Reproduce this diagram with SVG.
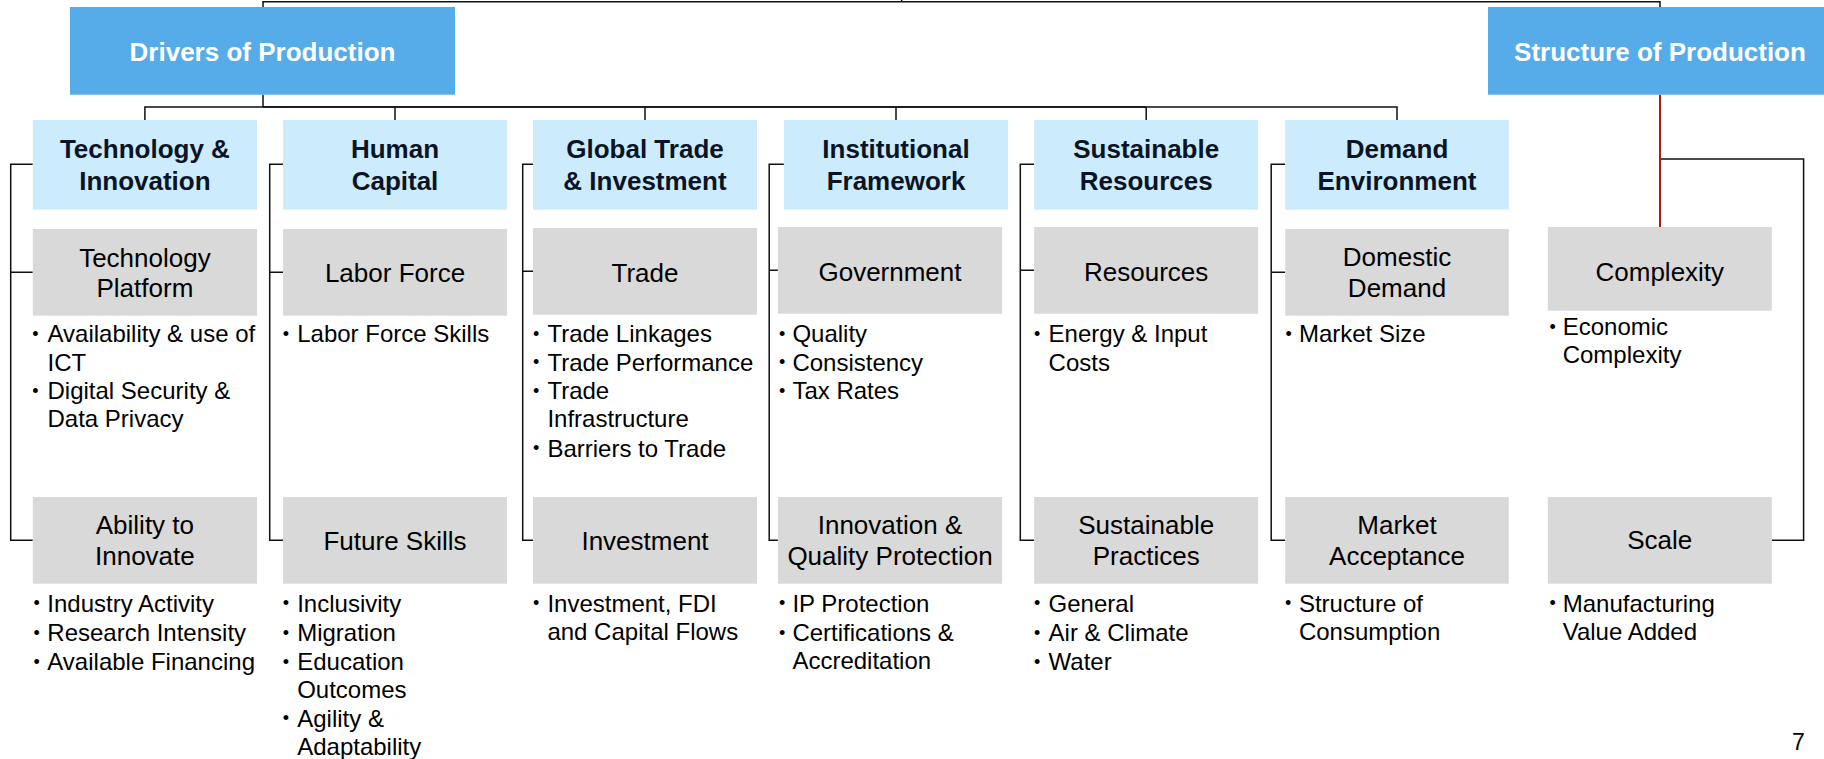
<svg xmlns="http://www.w3.org/2000/svg" width="1824" height="759" viewBox="0 0 1824 759">
<style>
.top{fill:#55ACE8}
.hdr{fill:#CCEBFC}
.gry{fill:#D9D9D9}
text{font-family:"Liberation Sans",Arial,sans-serif}
.tt{font-size:26px;font-weight:bold;fill:#FFFFFF;text-anchor:middle}
.ht{font-size:26px;font-weight:bold;fill:#0B1426;text-anchor:middle}
.gt{font-size:26px;fill:#000;text-anchor:middle}
.bt{font-size:24px;fill:#000}
.bl{font-size:18px;fill:#000}
.ln{fill:none;stroke:#111;stroke-width:1.5}
.red{fill:none;stroke:#A61C1C;stroke-width:2}
</style>
<rect width="1824" height="759" fill="#FFFFFF"/>

<g id="connectors">
  <path class="ln" d="M263,8 V1.7 H1660 V8 M901.7,0 V1.7"/>
  <path class="ln" d="M263,94.7 V107 M144.9,120 V107 H1397 V120 M395,107 V120 M645,107 V120 M896,107 V120 M1146.2,107 V120"/>
  <path class="ln" stroke-width="2" d="M263,107 H1146.2"/>
  <path class="ln" d="M32.8,164.3 H10.7 V540.3 H32.8 M10.7,272.3 H32.8"/>
  <path class="ln" d="M283.1,164.3 H269.7 V540.3 H283.1 M269.7,272.3 H283.1"/>
  <path class="ln" d="M533,164.3 H522.7 V540.3 H533 M522.7,271.3 H533"/>
  <path class="ln" d="M783.9,164.3 H769.2 V540.3 H777.9 M769.2,270.3 H777.9"/>
  <path class="ln" d="M1034.2,164.3 H1020.3 V540.3 H1034.2 M1020.3,270.3 H1034.2"/>
  <path class="ln" d="M1285.2,164.3 H1271.2 V540.3 H1285.2 M1271.2,272.3 H1285.2"/>
  <path class="ln" d="M1660,159 H1803.6 V540.3 H1771.8"/>
  <path class="red" d="M1660,94.7 V227"/>
</g>

<g id="drivers">
  <rect class="top" x="70" y="7" width="385" height="87.7"/>
  <text class="tt" x="262.5" y="61">Drivers of Production</text>
</g>
<g id="structure">
  <rect class="top" x="1488" y="7" width="345" height="87.7"/>
  <text class="tt" x="1660" y="61">Structure of Production</text>
</g>

<g id="tech-innovation">
  <rect class="hdr" x="32.8" y="120" width="224.2" height="89.7"/>
  <text class="ht" x="144.9" y="158.3">Technology &amp;</text>
  <text class="ht" x="144.9" y="190">Innovation</text>
</g>
<g id="human-capital">
  <rect class="hdr" x="283.1" y="120" width="223.8" height="89.7"/>
  <text class="ht" x="395" y="158.3">Human</text>
  <text class="ht" x="395" y="190">Capital</text>
</g>
<g id="global-trade">
  <rect class="hdr" x="533" y="120" width="224" height="89.7"/>
  <text class="ht" x="645" y="158.3">Global Trade</text>
  <text class="ht" x="645" y="190">&amp; Investment</text>
</g>
<g id="institutional">
  <rect class="hdr" x="783.9" y="120" width="224.2" height="89.7"/>
  <text class="ht" x="896" y="158.3">Institutional</text>
  <text class="ht" x="896" y="190">Framework</text>
</g>
<g id="sustainable-resources">
  <rect class="hdr" x="1034.2" y="120" width="223.9" height="89.7"/>
  <text class="ht" x="1146.2" y="158.3">Sustainable</text>
  <text class="ht" x="1146.2" y="190">Resources</text>
</g>
<g id="demand-environment">
  <rect class="hdr" x="1285.2" y="120" width="223.6" height="89.7"/>
  <text class="ht" x="1397" y="158.3">Demand</text>
  <text class="ht" x="1397" y="190">Environment</text>
</g>

<!-- Row 1 grey -->
<g id="technology-platform">
  <rect class="gry" x="32.8" y="229" width="224.2" height="86.7"/>
  <text class="gt" x="144.9" y="266.7">Technology</text>
  <text class="gt" x="144.9" y="297.3">Platform</text>
  <text class="bl" x="32.3" y="340">•</text><text class="bt" x="47.5" y="342.3">Availability &amp; use of</text>
  <text class="bt" x="47.5" y="370.5">ICT</text>
  <text class="bl" x="32.3" y="396.7">•</text><text class="bt" x="47.5" y="399">Digital Security &amp;</text>
  <text class="bt" x="47.5" y="427.3">Data Privacy</text>
</g>
<g id="labor-force">
  <rect class="gry" x="283.1" y="229" width="223.8" height="86.7"/>
  <text class="gt" x="395" y="281.7">Labor Force</text>
  <text class="bl" x="282.7" y="340">•</text><text class="bt" x="297.2" y="342.3">Labor Force Skills</text>
</g>
<g id="trade">
  <rect class="gry" x="533" y="228" width="224" height="86.7"/>
  <text class="gt" x="645" y="281.7">Trade</text>
  <text class="bl" x="533" y="340">•</text><text class="bt" x="547.4" y="342.3">Trade Linkages</text>
  <text class="bl" x="533" y="368.2">•</text><text class="bt" x="547.4" y="370.5">Trade Performance</text>
  <text class="bl" x="533" y="396.7">•</text><text class="bt" x="547.4" y="399">Trade</text>
  <text class="bt" x="547.4" y="427.3">Infrastructure</text>
  <text class="bl" x="533" y="454.2">•</text><text class="bt" x="547.4" y="456.5">Barriers to Trade</text>
</g>
<g id="government">
  <rect class="gry" x="777.9" y="227" width="224.2" height="86.7"/>
  <text class="gt" x="890" y="281">Government</text>
  <text class="bl" x="779.1" y="340">•</text><text class="bt" x="792.4" y="342.3">Quality</text>
  <text class="bl" x="779.1" y="368.2">•</text><text class="bt" x="792.4" y="370.5">Consistency</text>
  <text class="bl" x="779.1" y="396.7">•</text><text class="bt" x="792.4" y="399">Tax Rates</text>
</g>
<g id="resources">
  <rect class="gry" x="1034.2" y="227" width="223.9" height="86.7"/>
  <text class="gt" x="1146.2" y="281">Resources</text>
  <text class="bl" x="1034.1" y="340">•</text><text class="bt" x="1048.6" y="342.3">Energy &amp; Input</text>
  <text class="bt" x="1048.6" y="370.5">Costs</text>
</g>
<g id="domestic-demand">
  <rect class="gry" x="1285.2" y="229" width="223.6" height="86.7"/>
  <text class="gt" x="1397" y="265.7">Domestic</text>
  <text class="gt" x="1397" y="297.3">Demand</text>
  <text class="bl" x="1285.5" y="340">•</text><text class="bt" x="1298.9" y="342.3">Market Size</text>
</g>
<g id="complexity">
  <rect class="gry" x="1547.8" y="227" width="224" height="83.7"/>
  <text class="gt" x="1659.8" y="281">Complexity</text>
  <text class="bl" x="1549.4" y="332.7">•</text><text class="bt" x="1562.7" y="335">Economic</text>
  <text class="bt" x="1562.7" y="363.3">Complexity</text>
</g>

<!-- Row 2 grey -->
<g id="ability-to-innovate">
  <rect class="gry" x="32.8" y="497" width="224.2" height="86.7"/>
  <text class="gt" x="144.9" y="534">Ability to</text>
  <text class="gt" x="144.9" y="565">Innovate</text>
  <text class="bl" x="33.6" y="609.4">•</text><text class="bt" x="47.3" y="611.7">Industry Activity</text>
  <text class="bl" x="33.6" y="638.7">•</text><text class="bt" x="47.3" y="641">Research Intensity</text>
  <text class="bl" x="33.6" y="667.7">•</text><text class="bt" x="47.3" y="670">Available Financing</text>
</g>
<g id="future-skills">
  <rect class="gry" x="283.1" y="497" width="223.8" height="86.7"/>
  <text class="gt" x="395" y="550">Future Skills</text>
  <text class="bl" x="282.7" y="609.4">•</text><text class="bt" x="297.2" y="611.7">Inclusivity</text>
  <text class="bl" x="282.7" y="638.7">•</text><text class="bt" x="297.2" y="641">Migration</text>
  <text class="bl" x="282.7" y="667.7">•</text><text class="bt" x="297.2" y="670">Education</text>
  <text class="bt" x="297.2" y="698.3">Outcomes</text>
  <text class="bl" x="282.7" y="724.4">•</text><text class="bt" x="297.2" y="726.7">Agility &amp;</text>
  <text class="bt" x="297.2" y="755">Adaptability</text>
</g>
<g id="investment">
  <rect class="gry" x="533" y="497" width="224" height="86.7"/>
  <text class="gt" x="645" y="550">Investment</text>
  <text class="bl" x="533" y="609.4">•</text><text class="bt" x="547.4" y="611.7">Investment, FDI</text>
  <text class="bt" x="547.4" y="640">and Capital Flows</text>
</g>
<g id="innovation-quality-protection">
  <rect class="gry" x="777.9" y="497" width="224.2" height="86.7"/>
  <text class="gt" x="890" y="534">Innovation &amp;</text>
  <text class="gt" x="890" y="565">Quality Protection</text>
  <text class="bl" x="779.1" y="609.4">•</text><text class="bt" x="792.4" y="611.7">IP Protection</text>
  <text class="bl" x="779.1" y="638.7">•</text><text class="bt" x="792.4" y="641">Certifications &amp;</text>
  <text class="bt" x="792.4" y="669.3">Accreditation</text>
</g>
<g id="sustainable-practices">
  <rect class="gry" x="1034.2" y="497" width="223.9" height="86.7"/>
  <text class="gt" x="1146.2" y="534">Sustainable</text>
  <text class="gt" x="1146.2" y="565">Practices</text>
  <text class="bl" x="1034.1" y="609.4">•</text><text class="bt" x="1048.6" y="611.7">General</text>
  <text class="bl" x="1034.1" y="638.7">•</text><text class="bt" x="1048.6" y="641">Air &amp; Climate</text>
  <text class="bl" x="1034.1" y="667.7">•</text><text class="bt" x="1048.6" y="670">Water</text>
</g>
<g id="market-acceptance">
  <rect class="gry" x="1285.2" y="497" width="223.6" height="86.7"/>
  <text class="gt" x="1397" y="534">Market</text>
  <text class="gt" x="1397" y="565">Acceptance</text>
  <text class="bl" x="1284.9" y="609.4">•</text><text class="bt" x="1298.9" y="611.7">Structure of</text>
  <text class="bt" x="1298.9" y="640">Consumption</text>
</g>
<g id="scale">
  <rect class="gry" x="1547.8" y="497" width="224" height="86.7"/>
  <text class="gt" x="1659.8" y="549">Scale</text>
  <text class="bl" x="1549.4" y="609.4">•</text><text class="bt" x="1562.7" y="611.7">Manufacturing</text>
  <text class="bt" x="1562.7" y="640">Value Added</text>
</g>

<text x="1792" y="750" style="font-size:23px;fill:#000">7</text>
</svg>
